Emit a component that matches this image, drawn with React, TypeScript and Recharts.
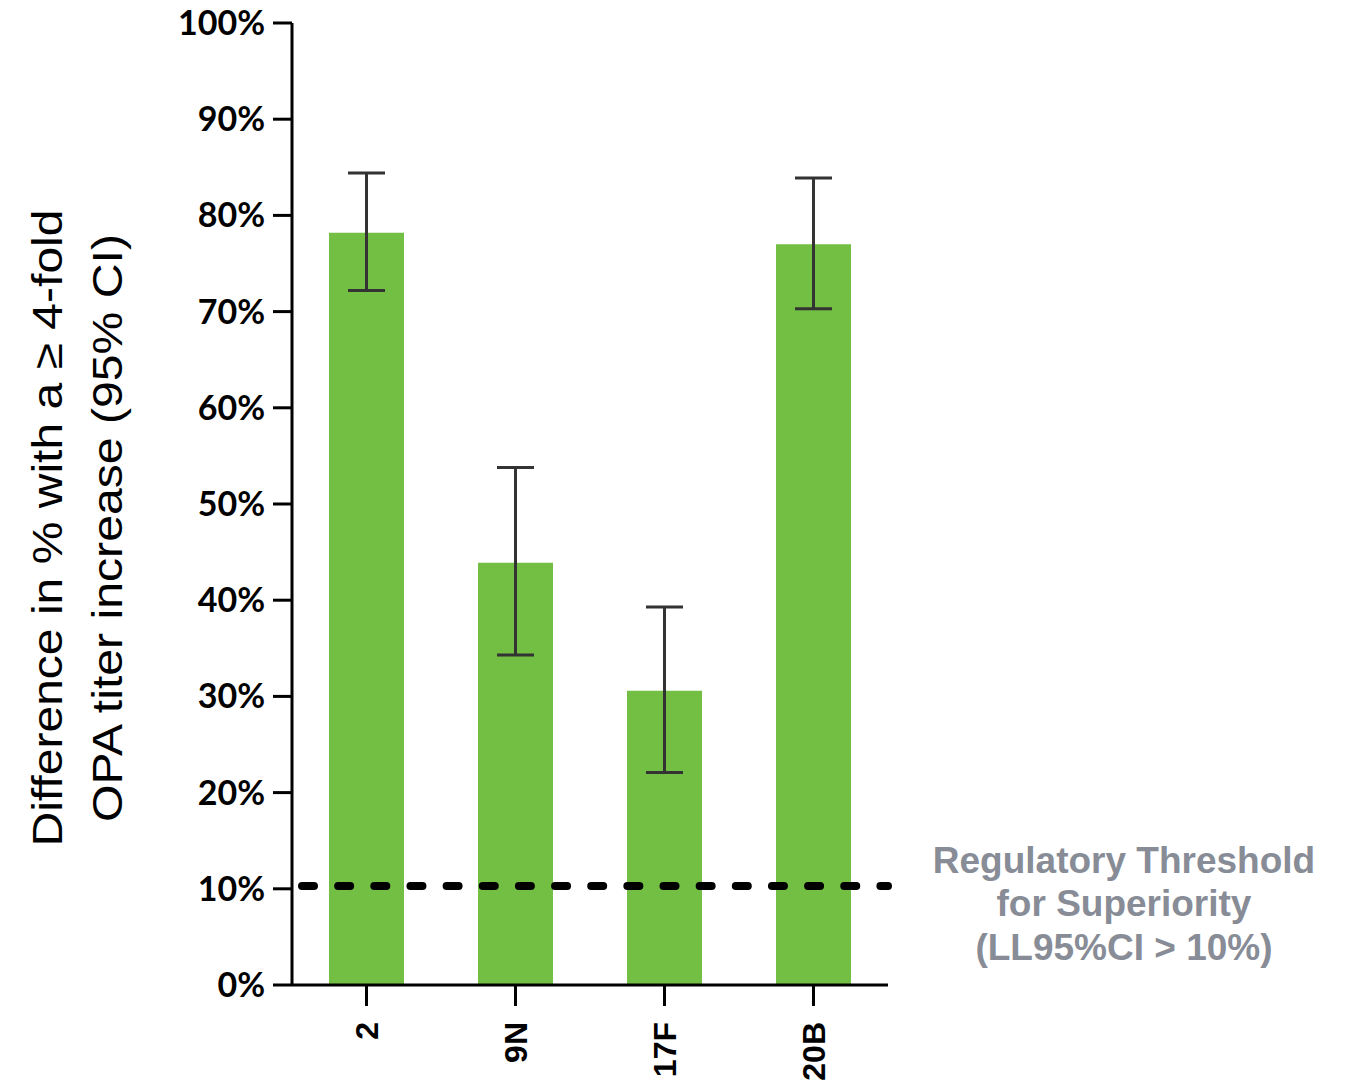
import React from 'react';
import { BarChart, Bar, XAxis, YAxis, ErrorBar, ReferenceLine } from 'recharts';

// Serotypes and the difference in % of subjects reaching a >= 4-fold OPA titer rise
const serotypes = ['2', '9N', '17F', '20B'];
const differences = [78.2, 43.9, 30.6, 77.0];
const lowerCI = [72.2, 34.3, 22.1, 70.3];
const upperCI = [84.4, 53.8, 39.3, 83.9];
const yTicks = [0, 10, 20, 30, 40, 50, 60, 70, 80, 90, 100];
const threshold = 10.3;
const thresholdLines = ['Regulatory Threshold', 'for Superiority', '(LL95%CI > 10%)'];
const yLabelLines = ['Difference in % with a \u2265 4-fold', 'OPA titer increase (95% CI)'];

const data = serotypes.map((s, i) => ({
  serotype: s,
  diff: differences[i],
  err: [differences[i] - lowerCI[i], upperCI[i] - differences[i]],
}));

const XTick = (props: any) => {
  const { x, y, payload } = props;
  return (
    <text
      transform={`translate(${x},${y + 14}) rotate(-90)`}
      textAnchor="end"
      dy="0.36em"
      fontFamily="Liberation Sans, Arial"
      fontWeight={700}
      fontSize={32}
      fill="#000"
    >
      {payload.value}
    </text>
  );
};

const YLabel = () => {
  const cy = 528;
  return (
    <g fontFamily="Liberation Sans, Arial" fontSize={42} fill="#000">
      <text transform={`translate(62,${cy}) rotate(-90)`} textAnchor="middle" textLength={637} lengthAdjust="spacingAndGlyphs">
        {yLabelLines[0]}
      </text>
      <text transform={`translate(122,${cy}) rotate(-90)`} textAnchor="middle" textLength={588} lengthAdjust="spacingAndGlyphs">
        {yLabelLines[1]}
      </text>
    </g>
  );
};

const ThresholdLabel = (props: any) => {
  const vb = props.viewBox || {};
  const cx = (vb.x ?? 0) + (vb.width ?? 0) + 236;
  const baseY = (vb.y ?? 0) - 13;
  return (
    <g fontFamily="Liberation Sans, Arial" fontWeight={700} fontSize={37} fill="#878C96">
      {thresholdLines.map((t, i) => (
        <text key={t} x={cx} y={baseY + i * 43.5} textAnchor="middle">
          {t}
        </text>
      ))}
    </g>
  );
};

export default function App() {
  return (
    <div style={{ position: 'absolute', left: 0, top: 0, background: '#fff' }}>
      <BarChart
        width={1353}
        height={1085}
        data={data}
        margin={{ top: 23, right: 465, bottom: 0, left: 0 }}
      >
        <XAxis
          dataKey="serotype"
          height={100}
          axisLine={{ stroke: '#000', strokeWidth: 3 }}
          tickLine={{ stroke: '#000', strokeWidth: 3 }}
          tickSize={21}
          tick={<XTick />}
          interval={0}
        />
        <YAxis
          width={292}
          domain={[0, 100]}
          ticks={yTicks}
          interval={0}
          tickFormatter={(v: number) => `${v}%`}
          axisLine={{ stroke: '#000', strokeWidth: 3 }}
          tickLine={{ stroke: '#000', strokeWidth: 3 }}
          tickSize={19}
          tickMargin={8}
          tick={{ fontFamily: 'Lato', fontWeight: 700, fontSize: 34, fill: '#000' }}
          label={<YLabel />}
        />
        <Bar dataKey="diff" fill="#72BF44" barSize={75} isAnimationActive={false}>
          <ErrorBar
            dataKey="err"
            width={18.5}
            strokeWidth={3}
            stroke="#333333"
            direction="y"
            isAnimationActive={false}
          />
        </Bar>
        <ReferenceLine
          y={threshold}
          stroke="#000"
          strokeWidth={8}
          strokeDasharray="12 24.15"
          strokeDashoffset={26.15}
          strokeLinecap="round"
          label={<ThresholdLabel />}
        />
      </BarChart>
    </div>
  );
}
